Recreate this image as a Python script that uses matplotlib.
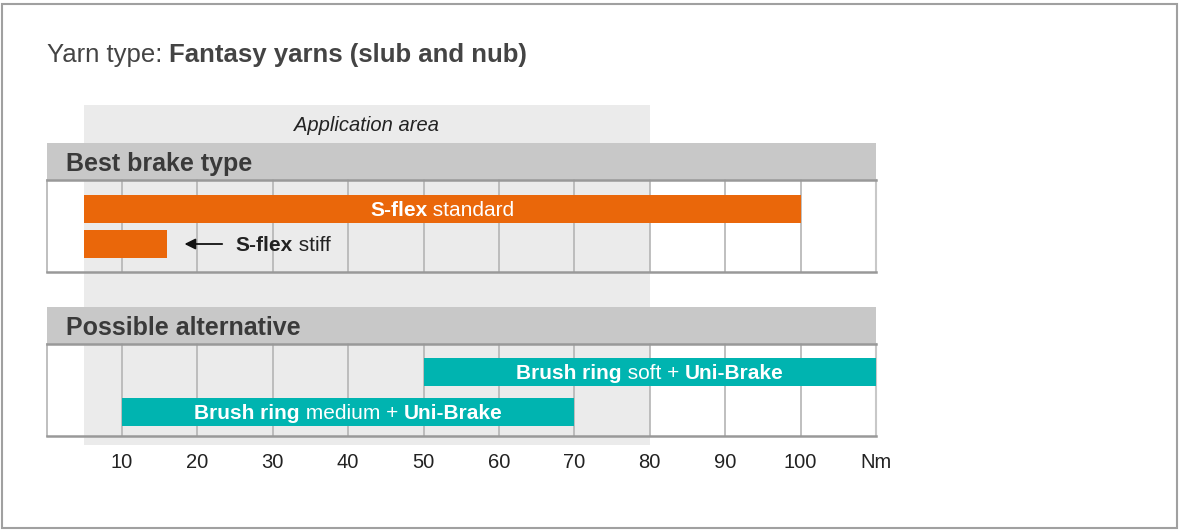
import matplotlib.pyplot as plt
from matplotlib.patches import Rectangle
from matplotlib.transforms import offset_copy

plt.rcParams['font.family'] = ['Liberation Sans', 'DejaVu Sans']

# Daten (Nm)
app_area = (5, 80)
best_labels = [[('S-flex', 'bold'), (' standard', 'normal')],
               [('S-flex', 'bold'), (' stiff', 'normal')]]
best_start = [5, 5]
best_end = [100, 16]
alt_labels = [[('Brush ring', 'bold'), (' soft + ', 'normal'), ('Uni-Brake', 'bold')],
              [('Brush ring', 'bold'), (' medium + ', 'normal'), ('Uni-Brake', 'bold')]]
alt_start = [50, 10]
alt_end = [110, 70]
ticks = [10, 20, 30, 40, 50, 60, 70, 80, 90, 100]
xmax = 110

orange = '#EA670A'
teal = '#00B4B0'
txt = '#3a3a3a'

fig = plt.figure(figsize=(11.8, 5.3), dpi=100)
ax = fig.add_axes([0, 0, 1, 1])
px = 829.5 / xmax  # Pixel pro Nm
ax.set_xlim(-46.5 / px, (1180 - 46.5) / px)
ax.set_ylim(530, 0)
ax.axis('off')

renderer = fig.canvas.get_renderer()


def rich_text(x, y, parts, size, color, ha='center'):
    # Text mit gemischter Schriftstärke, y = Grundlinie
    objs = []
    widths = []
    for s, w in parts:
        t = ax.text(x, y, s, fontsize=size, fontweight=w, color=color,
                    ha='left', va='baseline', zorder=6)
        objs.append(t)
        widths.append(t.get_window_extent(renderer).width)
    total = sum(widths)
    off = -total / 2 if ha == 'center' else 0
    for t, wd in zip(objs, widths):
        t.set_transform(offset_copy(ax.transData, fig, x=off, y=0, units='dots'))
        off += wd


# Rahmen
fig.patches.append(Rectangle((2 / 1180, 2 / 530), 1175 / 1180, 524 / 530,
                             transform=fig.transFigure, fill=False,
                             edgecolor='#a0a0a0', lw=1.5))

# Titel
rich_text(0, 62, [('Yarn type: ', 'normal'), ('Fantasy yarns (slub and nub)', 'bold')],
          18.5, '#444444', ha='left')

# Anwendungsbereich
ax.add_patch(Rectangle((app_area[0], 105), app_area[1] - app_area[0], 340,
                       facecolor='#ebebeb', edgecolor='none', zorder=1))
ax.text(sum(app_area) / 2, 131, 'Application area', fontsize=14.5, style='italic',
        color='#222222', ha='center', va='baseline', zorder=6)


def panel(top, title, starts, ends, labels, color, centers):
    h_head = 37
    h_body = 92
    ax.add_patch(Rectangle((0, top), xmax, h_head, facecolor='#c8c8c8',
                           edgecolor='none', zorder=2))
    ax.text(19.5 / px, top + 28, title, fontsize=18, fontweight='bold',
            color=txt, ha='left', va='baseline', zorder=6)
    b0 = top + h_head
    b1 = b0 + h_body
    for t in ticks:
        ax.plot([t, t], [b0, b1], color='#b4b4b4', lw=1.2, zorder=2)
    ax.plot([0, 0], [b0, b1], color='#b4b4b4', lw=1.2, zorder=2)
    ax.plot([xmax, xmax], [b0, b1], color='#c8c8c8', lw=1.5, zorder=2)
    ax.plot([0, xmax], [b0, b0], color='#999999', lw=1.8, zorder=3)
    ax.plot([0, xmax], [b1, b1], color='#999999', lw=1.8, zorder=3)
    ax.barh([b0 + c for c in centers], [e - s for s, e in zip(starts, ends)],
            left=starts, height=28, color=color, zorder=4)
    return b0


# Beste Bremse
b0 = panel(143, 'Best brake type', best_start, best_end, best_labels, orange, [28.5, 64])
rich_text((best_start[0] + best_end[0]) / 2, b0 + 28.5 + 7.4, best_labels[0], 15, 'white')
ax.annotate('', xy=(best_end[1] + 2.3, b0 + 64), xytext=(best_end[1] + 7.3, b0 + 64),
            arrowprops=dict(arrowstyle='-|>', color='#111111', lw=1.3,
                            mutation_scale=16, shrinkA=0, shrinkB=0), zorder=6)
rich_text(best_end[1] + 9.1, b0 + 64 + 7.4, best_labels[1], 15, '#222222', ha='left')

# Alternative
b0 = panel(307, 'Possible alternative', alt_start, alt_end, alt_labels, teal, [27.5, 67.5])
for s, e, lab, c in zip(alt_start, alt_end, alt_labels, [27.5, 67.5]):
    rich_text((s + e) / 2, b0 + c + 7.4, lab, 15, 'white')

# Achse
for t in ticks:
    ax.text(t, 468, str(t), fontsize=14.5, color='#222222', ha='center', va='baseline')
ax.text(xmax, 468, 'Nm', fontsize=14.5, color='#222222', ha='center', va='baseline')

fig.savefig('out.png', dpi=100)
